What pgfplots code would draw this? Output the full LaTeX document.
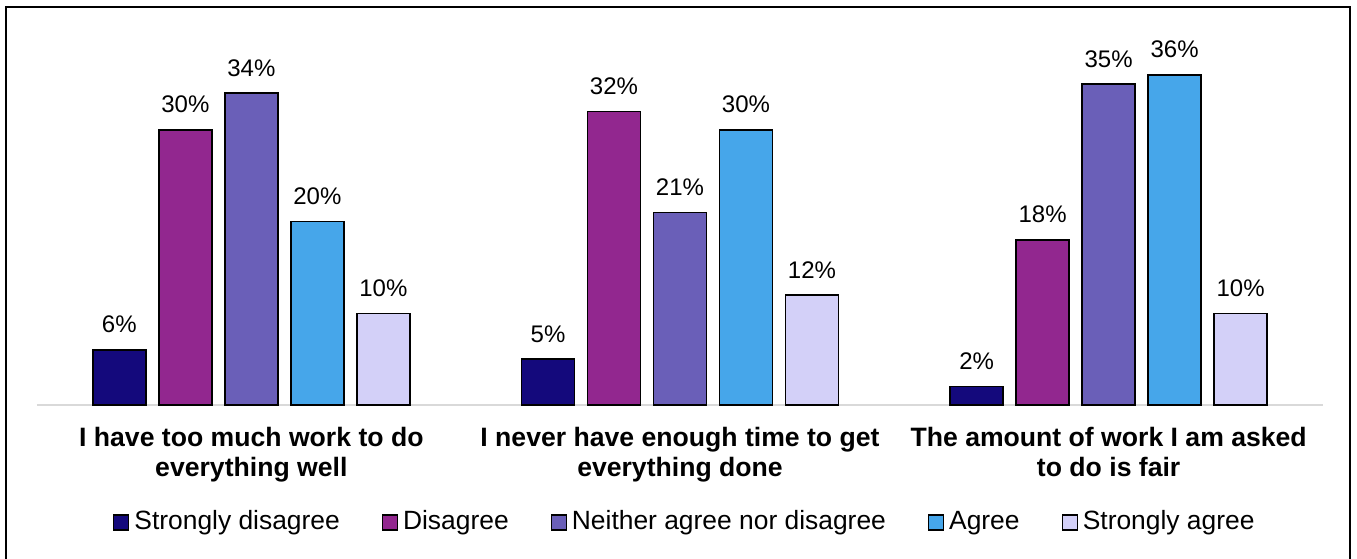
\documentclass[border=0pt]{standalone}
\usepackage{pgfplots}
\pgfplotsset{compat=1.18}
\usepackage{fontspec}
\setmainfont{Liberation Sans}

\definecolor{sdis}{RGB}{20,9,124}
\definecolor{dis}{RGB}{146,39,143}
\definecolor{neut}{RGB}{106,95,184}
\definecolor{agr}{RGB}{70,166,234}
\definecolor{sagr}{RGB}{211,208,248}
\definecolor{baseline}{RGB}{217,217,217}

\begin{document}
\begin{tikzpicture}
\useasboundingbox (0,0) rectangle (678.5pt,279pt);
% outer frame of the chart area
\draw[line width=1pt] (3pt,-5pt) -- (3pt,275.5pt) -- (675pt,275.5pt) -- (675pt,-5pt);
\begin{axis}[
  at={(18.5pt,76.5pt)}, anchor=south west,
  scale only axis,
  width=643pt, height=183.4pt,
  ybar=6.5pt, bar width=26.5pt,
  xmin=-0.5, xmax=2.5, ymin=0, ymax=40,
  axis lines*=left,
  y axis line style={draw=none},
  x axis line style={draw=baseline, line width=1pt},
  ytick=\empty,
  xtick={0,1,2},
  xtick style={draw=none},
  xticklabels={{I have too much work to do\\everything well},
               {I never have enough time to get\\everything done},
               {The amount of work I am asked\\to do is fair}},
  xticklabel style={align=center, inner sep=0pt, yshift=-6.5pt,
    font=\fontsize{13.3}{15}\selectfont\bfseries},
  /pgf/number format/assume math mode=true,
  nodes near coords={\pgfmathprintnumber\pgfplotspointmeta\%},
  every node near coord/.append style={font=\fontsize{12}{14}\selectfont,
    inner sep=0pt, yshift=8pt, text=black},
  legend image code/.code={\draw[#1, draw=black, line width=0.6pt] (0pt,-3.5pt) rectangle (7.5pt,4pt);},
  legend columns=5,
  legend style={draw=none, at={(0.503,-0.3217)}, anchor=center,
    font=\fontsize{13.2}{15}\selectfont,
    /tikz/every odd column/.append style={column sep=2.5pt},
    /tikz/every even column/.append style={column sep=21pt},
    nodes={inner xsep=0pt, text height=9.6pt, text depth=2.8pt}},
  legend cell align=left,
]
\addplot[fill=sdis, draw=black, line width=0.75pt] coordinates {(0,6) (1,5) (2,2)};
\addplot[fill=dis, draw=black, line width=0.75pt] coordinates {(0,30) (1,32) (2,18)};
\addplot[fill=neut, draw=black, line width=0.75pt] coordinates {(0,34) (1,21) (2,35)};
\addplot[fill=agr, draw=black, line width=0.75pt] coordinates {(0,20) (1,30) (2,36)};
\addplot[fill=sagr, draw=black, line width=0.75pt] coordinates {(0,10) (1,12) (2,10)};
\legend{Strongly disagree, Disagree, Neither agree nor disagree, Agree, Strongly agree}
\end{axis}
\end{tikzpicture}
\end{document}
